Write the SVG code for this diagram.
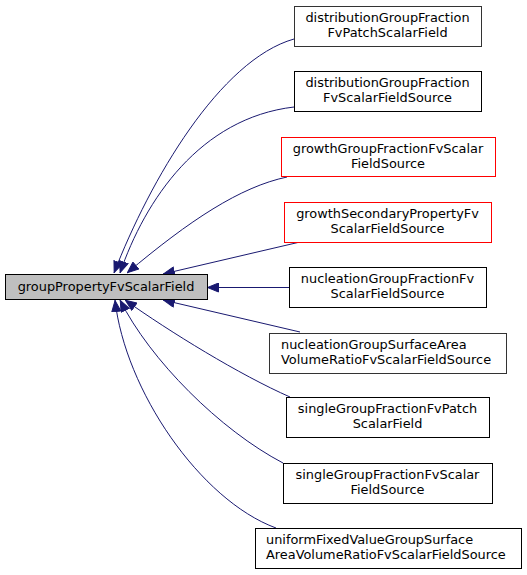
<svg xmlns="http://www.w3.org/2000/svg" width="527" height="575" viewBox="0 0 527 575">
<style>
text{font-family:"DejaVu Sans","Liberation Sans",sans-serif;font-size:12.9px;fill:#000}
.c{text-anchor:middle}
.l{text-anchor:start}
.n rect{fill:#fff;stroke:#000;stroke-width:1}
.n.r rect{stroke:#ff0000}
.n.g rect{stroke:#333333}
#main rect{fill:#bfbfbf;stroke:#000}
.e path{fill:none;stroke:#191970;stroke-width:1}
</style>
<defs>
<marker id="ah" viewBox="0 0 12 10" refX="12" refY="5" markerWidth="12" markerHeight="10" markerUnits="userSpaceOnUse" orient="auto">
<path d="M0.5,0.5 L11.5,5 L0.5,9.5 z" fill="#191970" stroke="#191970" stroke-width="1"/>
</marker>
</defs>
<g id="edges" class="e">
<path d="M294,39 C220,60 150,180 114,273" marker-end="url(#ah)"/>
<path d="M294,107 C200,118 145,200 120,273" marker-end="url(#ah)"/>
<path d="M287,177 C240,187 190,220 127,273" marker-end="url(#ah)"/>
<path d="M300,242 L163,274" marker-end="url(#ah)"/>
<path d="M289,287.5 L207,287.5" marker-end="url(#ah)"/>
<path d="M300,332 L163,300" marker-end="url(#ah)"/>
<path d="M290,397 C240,375 170,332 125,300" marker-end="url(#ah)"/>
<path d="M283,463 C220,430 150,360 120,300" marker-end="url(#ah)"/>
<path d="M276,528 C200,500 125,390 115,300" marker-end="url(#ah)"/>
</g>
<g id="main"><rect x="5.5" y="274.5" width="202" height="25"/><text class="c" x="106" y="291">groupPropertyFvScalarField</text></g>
<g id="n1" class="n g"><rect x="294.5" y="6.5" width="187" height="40"/><text class="c" x="387.5" y="22">distributionGroupFraction</text><text class="c" x="387.5" y="37">FvPatchScalarField</text></g>
<g id="n2" class="n"><rect x="294.5" y="71.5" width="187" height="40"/><text class="c" x="387.5" y="87">distributionGroupFraction</text><text class="c" x="387.5" y="102">FvScalarFieldSource</text></g>
<g id="n3" class="n r"><rect x="281.5" y="137.5" width="214" height="39"/><text class="c" x="388" y="153">growthGroupFractionFvScalar</text><text class="c" x="388" y="168">FieldSource</text></g>
<g id="n4" class="n r"><rect x="284.5" y="202.5" width="207" height="40"/><text class="c" x="387.5" y="218">growthSecondaryPropertyFv</text><text class="c" x="387.5" y="233">ScalarFieldSource</text></g>
<g id="n5" class="n"><rect x="289.5" y="267.5" width="197" height="40"/><text class="c" x="387.5" y="283">nucleationGroupFractionFv</text><text class="c" x="387.5" y="298">ScalarFieldSource</text></g>
<g id="n6" class="n g"><rect x="269.5" y="333.5" width="237" height="40"/><text class="l" x="281" y="349">nucleationGroupSurfaceArea</text><text class="l" x="281" y="364">VolumeRatioFvScalarFieldSource</text></g>
<g id="n7" class="n"><rect x="286.5" y="397.5" width="203" height="40"/><text class="c" x="387.5" y="413">singleGroupFractionFvPatch</text><text class="c" x="387.5" y="428">ScalarField</text></g>
<g id="n8" class="n"><rect x="283.5" y="463.5" width="209" height="40"/><text class="c" x="387.5" y="479">singleGroupFractionFvScalar</text><text class="c" x="387.5" y="494">FieldSource</text></g>
<g id="n9" class="n"><rect x="255.5" y="528.5" width="266" height="40"/><text class="l" x="266" y="544">uniformFixedValueGroupSurface</text><text class="l" x="266" y="559">AreaVolumeRatioFvScalarFieldSource</text></g>
</svg>
